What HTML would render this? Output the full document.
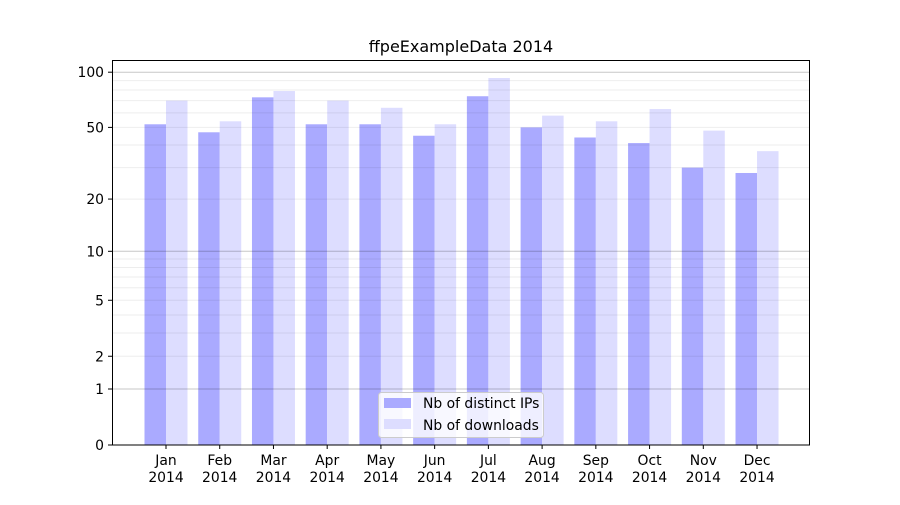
<!DOCTYPE html>
<html><head><meta charset="utf-8"><style>
body{margin:0;background:#fff}
svg text{font-family:"DejaVu Sans","Liberation Sans",sans-serif;font-size:13.9px;fill:#000}
</style></head><body>
<svg id="s" width="900" height="500" xmlns="http://www.w3.org/2000/svg"></svg>
<script>
const s=document.getElementById('s');
const Y=v=>445-186*Math.log10(1+v);
let h='<rect width="900" height="500" fill="#fff"/>';
const ips=[52,47,73,52,52,45,74,50,44,41,30,28];
const dl=[70,54,79,70,64,52,93,58,54,63,48,37];
const m=['Jan','Feb','Mar','Apr','May','Jun','Jul','Aug','Sep','Oct','Nov','Dec'];
for(let i=0;i<12;i++){
 const c=166+i*53.73;
 h+=`<rect x="${c-21.5}" y="${Y(ips[i])}" width="21.5" height="${445-Y(ips[i])}" fill="#aaaaff"/>`;
 h+=`<rect x="${c}" y="${Y(dl[i])}" width="21.5" height="${445-Y(dl[i])}" fill="#ddddff"/>`;
 h+=`<line x1="${c}" x2="${c}" y1="445" y2="449" stroke="#000"/>`;
 h+=`<text x="${c}" y="465" text-anchor="middle">${m[i]}</text><text x="${c}" y="482" text-anchor="middle">2014</text>`;
}
const minors=[2,3,4,5,6,7,8,9,20,30,40,50,60,70,80,90];
minors.forEach(v=>{h+=`<line x1="113" x2="810" y1="${Y(v)}" y2="${Y(v)}" stroke="#000" stroke-opacity="0.07"/>`;});
[1,10,100].forEach(v=>{h+=`<line x1="113" x2="810" y1="${Y(v)}" y2="${Y(v)}" stroke="#000" stroke-opacity="0.22"/>`;});
[[0,'0'],[1,'1'],[2,'2'],[5,'5'],[10,'10'],[20,'20'],[50,'50'],[100,'100']].forEach(([v,t])=>{
 const y=Y(v);h+=`<line x1="108" x2="113" y1="${y}" y2="${y}" stroke="#000"/><text x="104" y="${y+5}" text-anchor="end">${t}</text>`;});
h+='<rect x="112.5" y="60.5" width="697" height="384.5" fill="none" stroke="#000"/>';
h+='<text x="461" y="52" text-anchor="middle" style="font-size:16px">ffpeExampleData 2014</text>';
h+='<rect x="378.5" y="392.5" width="165" height="45" rx="3" fill="#fff" fill-opacity="0.8" stroke="#ccc"/>';
h+='<rect x="384" y="398" width="27" height="10" fill="#aaaaff"/><text x="423" y="408">Nb of distinct IPs</text>';
h+='<rect x="384" y="419" width="27" height="10" fill="#ddddff"/><text x="423" y="430">Nb of downloads</text>';
s.innerHTML=h;
</script>
</body></html>
